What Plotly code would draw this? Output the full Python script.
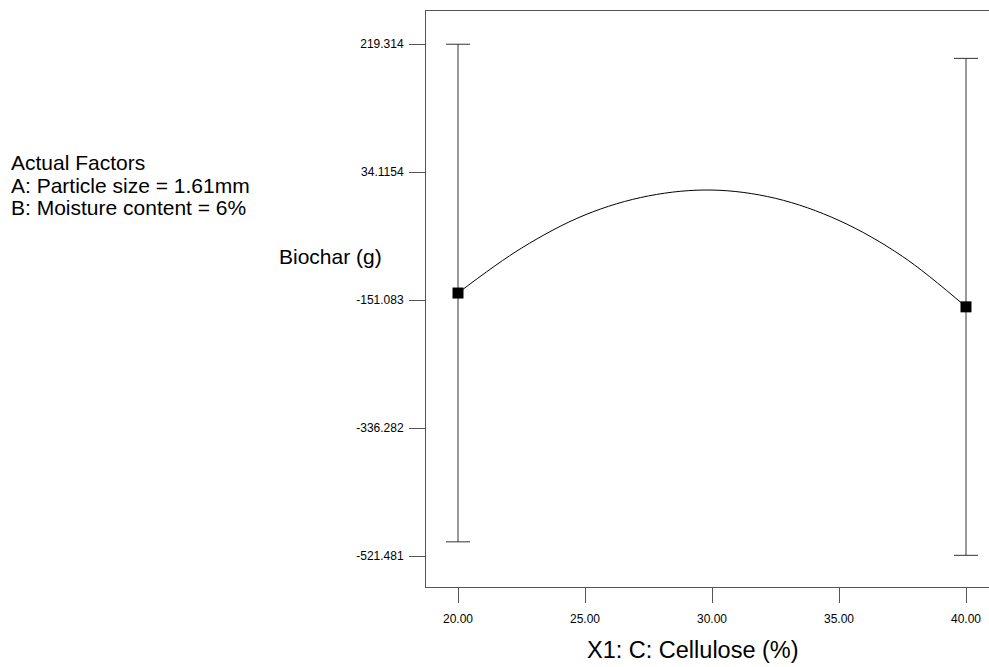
import plotly.graph_objects as go

# ---- data ----
design_x = [20.0, 40.0]
design_y = [-141.0, -161.0]
lsd_half = [360.0, 359.5]

curve_x = [20.0, 22.5, 25.0, 27.5, 30.0, 32.5, 35.0, 37.5, 40.0]
curve_y = [-141.0, -76.0, -28.0, -0.5, 8.0, -4.0, -36.0, -88.0, -161.0]

y_tickvals = [-521.481, -336.282, -151.083, 34.1154, 219.314]
y_ticktext = ["-521.481", "-336.282", "-151.083", "34.1154", "219.314"]
x_tickvals = [20, 25, 30, 35, 40]
x_ticktext = ["20.00", "25.00", "30.00", "35.00", "40.00"]

factor_lines = ["Actual Factors", "A: Particle size = 1.61mm", "B: Moisture content = 6%"]
x_title = "X1: C: Cellulose (%)"
y_title = "Biochar (g)"

FONT = "Liberation Sans, Arial, sans-serif"
W, H = 989, 667
ML, MR, MT, MB = 426, 0, 11, 80
PW, PH = W - ML - MR, H - MT - MB

def px_x(px):
    return (px - ML) / PW

def px_y(py):
    return (H - MB - py) / PH

fig = go.Figure()
fig.add_trace(go.Scatter(
    x=curve_x, y=curve_y, mode="lines",
    line=dict(color="black", width=1, shape="spline", smoothing=1.0),
    hoverinfo="skip", showlegend=False))
fig.add_trace(go.Scatter(
    x=design_x, y=design_y, mode="markers",
    marker=dict(symbol="square", size=11, color="black"),
    error_y=dict(type="data", array=lsd_half, symmetric=True,
                 color="#333333", thickness=1, width=12),
    showlegend=False))

annotations = []
for i, t in enumerate(factor_lines):
    annotations.append(dict(text=t, x=px_x(9), y=px_y(163 + 22.5 * i), xref="paper", yref="paper",
                            xanchor="left", yanchor="middle", showarrow=False,
                            font=dict(family=FONT, size=21, color="black")))
annotations.append(dict(text=y_title, x=px_x(330), y=px_y(256), xref="paper", yref="paper",
                        xanchor="center", yanchor="middle", showarrow=False,
                        font=dict(family=FONT, size=21, color="black")))
annotations.append(dict(text=x_title, x=px_x(693), y=px_y(650), xref="paper", yref="paper",
                        xanchor="center", yanchor="middle", showarrow=False,
                        font=dict(family=FONT, size=23.5, color="black")))

fig.update_layout(
    width=W, height=H,
    margin=dict(l=ML, r=MR, t=MT, b=MB, pad=0),
    paper_bgcolor="white", plot_bgcolor="white",
    font=dict(family=FONT, color="black"),
    annotations=annotations,
    xaxis=dict(range=[20 - 32 / 25.4, 20 + (PW - 32) / 25.4],
               tickvals=x_tickvals, ticktext=x_ticktext,
               ticks="outside", ticklen=15, tickcolor="#555555", tickwidth=1,
               showline=True, linecolor="#555555", linewidth=1, mirror=True,
               showgrid=False, zeroline=False,
               tickfont=dict(family=FONT, size=12, color="black"),
               ticklabelstandoff=6),
    yaxis=dict(range=[-521.481 - 31 * 1.44687, 219.314 + 33 * 1.44687],
               tickvals=y_tickvals, ticktext=y_ticktext,
               ticks="outside", ticklen=16, tickcolor="#555555", tickwidth=1,
               showline=True, linecolor="#555555", linewidth=1, mirror=False,
               showgrid=False, zeroline=False,
               tickfont=dict(family=FONT, size=12, color="black"),
               ticklabelstandoff=3),
)

fig.write_html("out.html")
